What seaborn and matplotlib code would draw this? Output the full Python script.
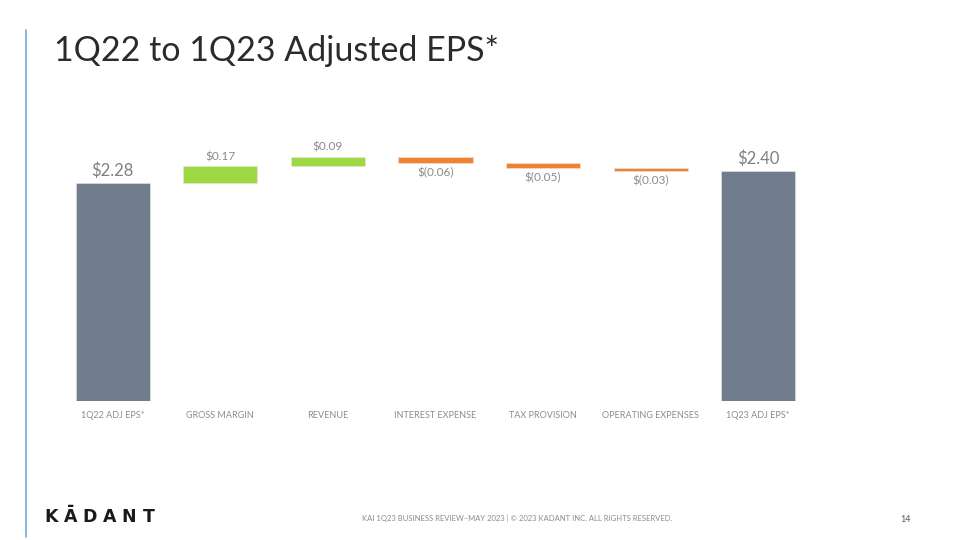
import matplotlib
matplotlib.use('Agg')
import matplotlib.pyplot as plt
import seaborn as sns
import pandas as pd
import numpy as np

# Chart data
categories = ['1Q22 ADJ EPS*', 'GROSS MARGIN', 'REVENUE', 'INTEREST EXPENSE',
              'TAX PROVISION', 'OPERATING EXPENSES', '1Q23 ADJ EPS*']
changes = [2.28, 0.17, 0.09, -0.06, -0.05, -0.03, 2.40]
kinds = ['total', 'up', 'up', 'down', 'down', 'down', 'total']
labels = ['$2.28', '$0.17', '$0.09', '$(0.06)', '$(0.05)', '$(0.03)', '$2.40']

colors = {'total': '#717D8C', 'up': '#9ED843', 'down': '#F08232'}

# Work out the floating bar bottoms for the waterfall
bottoms = []
heights = []
running = 0.0
for val, kind in zip(changes, kinds):
    if kind == 'total':
        bottoms.append(0.0)
        heights.append(val)
        running = val
    else:
        bottoms.append(running if val > 0 else running + val)
        heights.append(abs(val))
        running += val

df = pd.DataFrame({'category': categories, 'height': heights, 'bottom': bottoms, 'kind': kinds})

sns.set_style('white')
plt.rcParams['font.family'] = ['Lato', 'DejaVu Sans']

fig = plt.figure(figsize=(9.6, 5.4), dpi=100)
ax = fig.add_axes([59 / 960, 139 / 540, 753 / 960, 245 / 540])

sns.barplot(data=df, x='category', y='height', order=categories, bottom=df['bottom'].values,
            width=0.69, ax=ax, errorbar=None, color=colors['total'], saturation=1)

for patch, kind in zip(ax.patches, df['kind']):
    patch.set_facecolor(colors[kind])
    patch.set_edgecolor('#e6e6e6')
    patch.set_linewidth(0.4)

ax.set_ylim(0.1, 2.55)
ax.set_xlim(-0.5, len(categories) - 0.5)

# value labels
for i, (b, h, kind, lab) in enumerate(zip(bottoms, heights, kinds, labels)):
    if kind == 'total':
        ax.text(i, b + h + 0.04, lab, ha='center', va='bottom', fontsize=12,
                color='#808080', clip_on=False)
    elif kind == 'up':
        ax.text(i, b + h + 0.04, lab, ha='center', va='bottom', fontsize=8.5,
                color='#8a8a8a', clip_on=False)
    else:
        ax.text(i, b - 0.04, lab, ha='center', va='top', fontsize=8.5,
                color='#8a8a8a', clip_on=False)

ax.set_xlabel('')
ax.set_ylabel('')
ax.set_yticks([])
ax.tick_params(axis='x', length=0, pad=7, labelsize=6.5, labelcolor='#8c8c8c')
sns.despine(ax=ax, left=True, bottom=True)

# slide decoration
fig.add_artist(plt.Line2D([26 / 960, 26 / 960], [1 - 30 / 540, 1 - 537 / 540],
                          color='#6FA8DC', linewidth=1.2))
fig.text(54 / 960, 1 - 51 / 540, '1Q22 to 1Q23 Adjusted EPS*', fontsize=24.5,
         fontweight='normal', color='#2b2b2b', va='center', ha='left')

for k, ch in enumerate('KĀDANT'):
    fig.text((51 + k * 19.5) / 960, 1 - 517 / 540, ch, fontsize=12.5, fontweight='bold',
             family=['DejaVu Sans'], color='#1a1a1a', va='center', ha='center')

fig.text(517 / 960, 1 - 518 / 540,
         'KAI 1Q23 BUSINESS REVIEW\u2013MAY 2023 | \u00a9 2023 KADANT INC. ALL RIGHTS RESERVED.',
         fontsize=5.5, color='#8c8c8c', ha='center', va='center')
fig.text(906 / 960, 1 - 520 / 540, '14', fontsize=6.5, color='#595959', ha='center', va='center')

fig.savefig('out.png', dpi=100)
